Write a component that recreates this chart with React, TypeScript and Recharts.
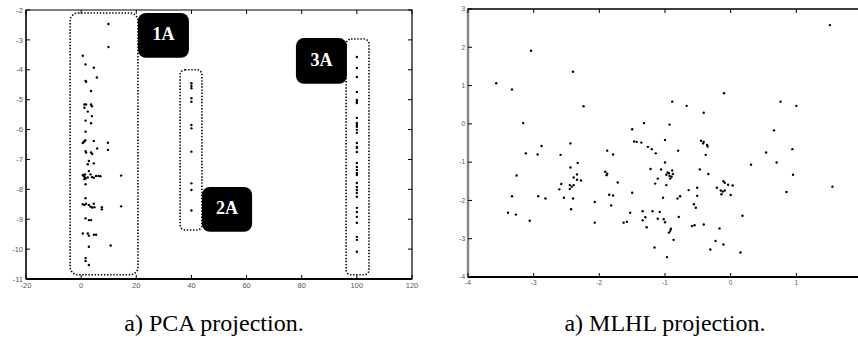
import React from "react";
import { ScatterChart, Scatter, XAxis, YAxis, ReferenceArea } from "recharts";

// tick labels
const PCA_X_TICKS = [-20, 0, 20, 40, 60, 80, 100, 120];
const PCA_Y_TICKS = [-11, -10, -9, -8, -7, -6, -5, -4, -3, -2];
const MLHL_X_TICKS = [-4, -3, -2, -1, 0, 1];
const MLHL_Y_TICKS = [-4, -3, -2, -1, 0, 1, 2, 3];

// PCA projection, group 1A (x, y)
const PCA_1A: [number, number][] = [
  [9.9, -2.47], [9.9, -3.24], [0.6, -3.53], [1.6, -3.82], [4.6, -3.93], [5.7, -4.26],
  [1.6, -4.37], [1.8, -4.4], [3.6, -4.71], [1.2, -5.16], [1.8, -5.16], [3.6, -5.16],
  [3.9, -5.22], [1.2, -5.27], [2.4, -5.4], [3.9, -5.55], [1.6, -5.7], [3.6, -5.79],
  [1.6, -6.07], [1.2, -6.39], [1.5, -6.36], [0.6, -6.45], [0.9, -6.42], [4.6, -6.38],
  [9.7, -6.44], [9.7, -6.68], [1.6, -6.72], [1.8, -6.77], [3.6, -6.77], [4.0, -6.82],
  [5.8, -6.63], [2.8, -7.05], [2.4, -7.16], [4.6, -7.13], [2.8, -7.39],
  [0.6, -7.52], [0.9, -7.55], [1.2, -7.58], [1.4, -7.5], [1.6, -7.63], [1.2, -7.66],
  [2.4, -7.6], [3.4, -7.5], [3.9, -7.59], [4.6, -7.61], [5.4, -7.55], [6.3, -7.55],
  [7.0, -7.56], [1.6, -7.83], [14.5, -7.54],
  [1.6, -8.3], [0.6, -8.5], [1.2, -8.52], [1.8, -8.48], [2.8, -8.52], [3.4, -8.58],
  [4.0, -8.61], [4.6, -8.48], [4.8, -8.6], [7.5, -8.6], [7.5, -8.67], [14.5, -8.57],
  [1.6, -8.97], [2.8, -9.03], [3.6, -9.03],
  [0.6, -9.48], [2.4, -9.48], [2.8, -9.55], [4.6, -9.52], [5.4, -9.52],
  [10.7, -9.88], [2.8, -9.92], [1.6, -10.3], [1.6, -10.4], [2.8, -10.53],
];

// group 2A sits on x = 40
const PCA_2A_X = 40;
const PCA_2A_Y = [-4.45, -4.54, -4.62, -4.95, -5.07, -5.85, -5.96, -6.74, -7.8, -8.02, -8.71];

// group 3A sits on x = 100
const PCA_3A_X = 100;
const PCA_3A_Y = [
  -3.57, -3.94, -4.24, -4.74, -5.01, -5.08, -5.11, -5.61, -5.78, -5.85, -5.91, -6.01,
  -6.11, -6.45, -6.58, -6.62, -6.75, -7.12, -7.25, -7.35, -7.45, -7.52, -7.79, -7.92,
  -8.02, -8.12, -8.25, -8.62, -8.76, -8.92, -9.12, -9.59, -9.69, -10.09,
];

// MLHL projection (x, y)
const MLHL_POINTS: [number, number][] = [
  [-3.04, 1.91], [-2.4, 1.36], [-3.57, 1.06], [-3.33, 0.9], [-2.24, 0.46], [-3.16, 0.02],
  [-1.32, 0.02], [-1.5, -0.14], [-2.44, -0.51], [-1.47, -0.46], [-1.43, -0.47], [-1.36, -0.49],
  [-1.0, -0.42], [1.51, 2.58], [-0.1, 0.8], [-0.89, 0.58], [-0.67, 0.47], [0.76, 0.58],
  [1.0, 0.47], [-0.41, 0.29], [-0.93, -0.02], [0.66, -0.17],
  [-0.45, -0.44], [-0.41, -0.47], [-0.42, -0.51], [-0.36, -0.55], [-0.35, -0.59], [-0.38, -0.81],
  [-2.88, -0.58], [-3.12, -0.77], [-2.94, -0.8], [-2.59, -0.81], [-1.26, -0.6], [-1.2, -0.66],
  [-1.14, -0.77], [-1.88, -0.7], [-1.79, -0.8],
  [-2.44, -1.14], [-2.33, -1.02], [-3.26, -1.35], [-2.39, -1.4], [-2.34, -1.32], [-2.34, -1.46],
  [-2.28, -1.48], [-2.58, -1.57], [-2.45, -1.6], [-2.42, -1.64], [-2.39, -1.6], [-2.45, -1.7],
  [-2.61, -1.71], [-1.91, -1.25], [-1.88, -1.3], [-1.89, -1.34], [-1.72, -1.53],
  [-2.54, -1.93], [-2.4, -1.95], [-2.82, -1.95], [-2.93, -1.89], [-3.33, -1.89], [-2.43, -2.23],
  [-2.07, -2.04], [-1.85, -1.85], [-1.79, -1.87], [-1.82, -2.13], [-1.5, -1.8],
  [-3.39, -2.32], [-3.27, -2.37], [-3.06, -2.53], [-2.07, -2.58], [-1.63, -2.58], [-1.58, -2.56],
  [-1.53, -2.32], [-1.34, -2.28], [-1.3, -2.44], [-1.34, -2.52], [-1.28, -2.7],
  [-1.11, -1.43], [-1.15, -1.56], [-1.22, -1.18], [-1.06, -1.19], [-1.0, -1.01], [-1.19, -2.28],
  [-1.08, -2.3], [-1.11, -2.48], [-1.02, -2.49], [-1.0, -2.57], [-1.16, -3.23], [-1.03, -1.93],
  [-0.8, -0.7], [0.54, -0.75], [0.94, -0.66], [0.31, -1.07], [0.7, -1.01], [0.95, -1.33],
  [1.55, -1.64], [0.85, -1.78],
  [-0.89, -1.22], [-0.96, -1.27], [-0.94, -1.29], [-0.88, -1.31], [-0.98, -1.33], [-0.93, -1.36],
  [-0.9, -1.38], [-0.92, -1.43], [-0.98, -1.6],
  [-0.47, -1.19], [-0.34, -1.31], [-0.11, -1.5], [-0.09, -1.54], [-0.04, -1.59], [0.03, -1.61],
  [-0.64, -1.73], [-0.51, -1.67], [-0.51, -1.88], [-0.21, -1.67], [-0.15, -1.74], [-0.12, -1.77],
  [-0.09, -1.74], [-0.14, -1.84], [0.0, -1.86],
  [-0.81, -1.95], [-0.77, -1.89], [-0.56, -2.1], [-0.53, -2.19], [-0.79, -2.43], [0.18, -2.4],
  [-0.91, -2.74], [-0.92, -2.79], [-0.94, -2.84], [-0.59, -2.67], [-0.55, -2.65], [-0.41, -2.63],
  [-0.17, -2.73], [-0.87, -3.03], [-0.23, -3.06], [-0.11, -3.15], [-0.31, -3.28], [0.15, -3.36],
  [-0.97, -3.48],
];

// annotation regions on the PCA plot, in data units
const PCA_GROUPS = [
  { x1: -4.0, x2: 20.6, y1: -10.86, y2: -2.1, r: 8 },
  { x1: 35.9, x2: 43.8, y1: -9.36, y2: -4.0, r: 5 },
  { x1: 96.1, x2: 104.4, y1: -10.86, y2: -2.97, r: 5 },
];
const PCA_TAGS = [
  { label: "1A", x1: 20.6, x2: 39.1, y1: -3.6, y2: -2.1 },
  { label: "2A", x1: 43.8, x2: 62.0, y1: -9.42, y2: -7.92 },
  { label: "3A", x1: 77.9, x2: 96.4, y1: -4.47, y2: -2.94 },
];

const pts = (pairs: [number, number][]) => pairs.map(([x, y]) => ({ x, y }));
const column = (x: number, ys: number[]) => ys.map((y) => ({ x, y }));

const SANS = "'Liberation Sans', Arial, sans-serif";
const SERIF = "'Liberation Serif', 'Times New Roman', serif";

const Dot = (p: any) => <circle cx={p.cx} cy={p.cy} r={1.2} fill="#000" />;

// MATLAB-like ticks: inward on both sides, labels outside
const makeYTick = (left: number, right: number, fontSize: number) => (p: any) => (
  <g>
    <line x1={left} x2={left + 4} y1={p.y} y2={p.y} stroke="#000" />
    <line x1={right - 4} x2={right} y1={p.y} y2={p.y} stroke="#000" />
    <text x={left - 3} y={p.y + fontSize * 0.35} textAnchor="end" fontSize={fontSize} fill="#555" fontFamily={SANS}>
      {p.payload.value}
    </text>
  </g>
);

const makeXTick = (top: number, bottom: number, fontSize: number) => (p: any) => (
  <g>
    <line x1={p.x} x2={p.x} y1={bottom} y2={bottom - 4} stroke="#000" />
    <line x1={p.x} x2={p.x} y1={top} y2={top + 4} stroke="#000" />
    <text x={p.x} y={bottom + 3 + fontSize * 0.8} textAnchor="middle" fontSize={fontSize} fill="#555" fontFamily={SANS}>
      {p.payload.value}
    </text>
  </g>
);

const DottedBox = (r: number) => (p: any) => (
  <rect x={p.x} y={p.y} width={p.width} height={p.height} rx={r} fill="none"
    stroke="#000" strokeWidth={1.6} strokeDasharray="1.4 1.7" />
);

const TagBox = (label: string) => (p: any) => (
  <g>
    <rect x={p.x} y={p.y} width={p.width} height={p.height} rx={8} fill="#000" />
    <text x={p.x + p.width / 2} y={p.y + p.height / 2 + 5} textAnchor="middle" fill="#fff"
      fontSize={18} fontWeight="bold" fontFamily={SERIF}>
      {label}
    </text>
  </g>
);

function PcaChart() {
  const W = 440, H = 300;
  const m = { top: 10, right: 28, bottom: 1, left: 2 };
  const axisH = 20, axisW = 24;
  const left = m.left + axisW, right = W - m.right, bottom = H - m.bottom - axisH;
  return (
    <ScatterChart width={W} height={H} margin={m}>
      <XAxis type="number" dataKey="x" domain={[-20, 120]} ticks={PCA_X_TICKS} interval={0}
        height={axisH} tickLine={false}
        axisLine={{ stroke: "#000", strokeWidth: 2 }} tick={makeXTick(m.top, bottom, 7.5)} />
      <YAxis type="number" dataKey="y" domain={[-11, -2]} ticks={PCA_Y_TICKS} interval={0}
        width={axisW} tickLine={false}
        axisLine={{ stroke: "#222", strokeWidth: 1.5 }} tick={makeYTick(left, right, 7.5)} />
      <ReferenceArea x1={-20} x2={120} y1={-11} y2={-2} fill="none" stroke="#000" strokeWidth={1.2} />
      {PCA_GROUPS.map((g, i) => (
        <ReferenceArea key={"g" + i} x1={g.x1} x2={g.x2} y1={g.y1} y2={g.y2} shape={DottedBox(g.r)} />
      ))}
      {PCA_TAGS.map((t) => (
        <ReferenceArea key={t.label} x1={t.x1} x2={t.x2} y1={t.y1} y2={t.y2} shape={TagBox(t.label)} />
      ))}
      <Scatter data={pts(PCA_1A)} shape={Dot} isAnimationActive={false} />
      <Scatter data={column(PCA_2A_X, PCA_2A_Y)} shape={Dot} isAnimationActive={false} />
      <Scatter data={column(PCA_3A_X, PCA_3A_Y)} shape={Dot} isAnimationActive={false} />
    </ScatterChart>
  );
}

function MlhlChart() {
  const W = 440, H = 300;
  const m = { top: 9, right: 18, bottom: 3, left: 4 };
  const axisH = 20, axisW = 24;
  const left = m.left + axisW, right = W - m.right, bottom = H - m.bottom - axisH;
  return (
    <ScatterChart width={W} height={H} margin={m}>
      <XAxis type="number" dataKey="x" domain={[-4, 2]} ticks={MLHL_X_TICKS} interval={0}
        height={axisH} tickLine={false}
        axisLine={{ stroke: "#000", strokeWidth: 2 }} tick={makeXTick(m.top, bottom, 6.5)} />
      <YAxis type="number" dataKey="y" domain={[-4, 3]} ticks={MLHL_Y_TICKS} interval={0}
        width={axisW} tickLine={false}
        axisLine={{ stroke: "#888", strokeWidth: 2.5 }} tick={makeYTick(left, right, 6.5)} />
      <ReferenceArea x1={-4} x2={2} y1={-4} y2={3} fill="none" stroke="#000" strokeWidth={1.5} />
      <Scatter data={pts(MLHL_POINTS)} shape={Dot} isAnimationActive={false} />
    </ScatterChart>
  );
}

const captionStyle: React.CSSProperties = {
  position: "absolute",
  top: 310,
  width: 300,
  textAlign: "center",
  fontFamily: SERIF,
  fontSize: 24,
  lineHeight: "26px",
  color: "#000",
};

export default function App() {
  return (
    <div style={{ position: "absolute", left: 0, top: 0, width: 858, height: 344, overflow: "hidden", background: "#fff" }}>
      <div style={{ position: "absolute", left: 0, top: 0 }}>
        <PcaChart />
      </div>
      <div style={{ position: "absolute", left: 440, top: 0 }}>
        <MlhlChart />
      </div>
      <div style={{ ...captionStyle, left: 64 }}>a) PCA projection.</div>
      <div style={{ ...captionStyle, left: 515 }}>a) MLHL projection.</div>
    </div>
  );
}
